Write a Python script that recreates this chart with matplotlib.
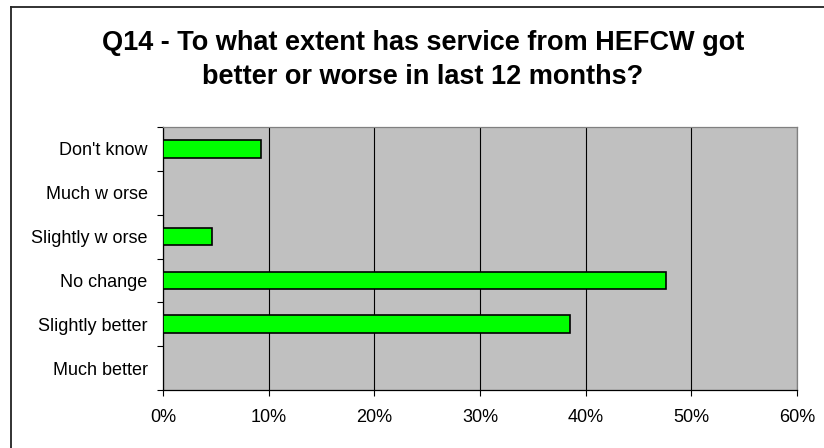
import matplotlib.pyplot as plt
from matplotlib.lines import Line2D
from matplotlib.ticker import FixedLocator, PercentFormatter

# survey answers, bottom to top as they appear on the axis
categories = ['Much better', 'Slightly better', 'No change',
              'Slightly w orse', 'Much w orse', "Don't know"]
percent = [0.0, 38.5, 47.6, 4.6, 0.0, 9.3]
x_ticks = [0, 10, 20, 30, 40, 50, 60]
title_lines = ['Q14 - To what extent has service from HEFCW got',
               'better or worse in last 12 months?']

plt.rcParams['font.family'] = ['Liberation Sans', 'DejaVu Sans']

W, H = 824, 448
fig = plt.figure(figsize=(W / 100, H / 100), dpi=100)
ax = fig.add_axes([163 / W, 1 - 390 / H, (797 - 163) / W, (390 - 127) / H])
ax.set_facecolor('#C0C0C0')

ypos = list(range(len(categories)))
widths = [1.2 if v > 0 else 0 for v in percent]
ax.barh(ypos, percent, height=0.4, color='#00FF00', edgecolor='black',
        linewidth=widths, zorder=3)

ax.set_xlim(0, 60)
ax.set_ylim(-0.5, len(categories) - 0.5)
ax.set_xticks(x_ticks)
ax.xaxis.set_major_formatter(PercentFormatter(decimals=0))
ax.grid(axis='x', color='black', linewidth=0.8, zorder=1)

# boundaries get tick marks, centres carry the labels
ax.yaxis.set_major_locator(FixedLocator([i - 0.5 for i in range(len(categories) + 1)]))
ax.yaxis.set_major_formatter(plt.NullFormatter())
ax.yaxis.set_minor_locator(FixedLocator(ypos))
ax.set_yticklabels(categories, minor=True)

ax.tick_params(axis='y', which='major', length=4, width=0.8, color='black')
ax.tick_params(axis='y', which='minor', length=0, pad=11, labelsize=13)
ax.tick_params(axis='x', length=4, width=0.8, pad=10, labelsize=13)

for side in ('left', 'bottom'):
    ax.spines[side].set_color('black')
    ax.spines[side].set_linewidth(0.9)
for side in ('top', 'right'):
    ax.spines[side].set_color('#808080')
    ax.spines[side].set_linewidth(0.9)

fig.text(423 / W, 1 - 50 / H, title_lines[0], ha='center', va='baseline',
         fontsize=19.5, fontweight='bold')
fig.text(423 / W, 1 - 84 / H, title_lines[1], ha='center', va='baseline',
         fontsize=19.5, fontweight='bold')

# chart frame
fig.add_artist(Line2D([11 / W, 1.0], [1 - 7 / H, 1 - 7 / H], color='#222222',
                      linewidth=1.3, transform=fig.transFigure))
fig.add_artist(Line2D([11 / W, 11 / W], [1 - 7 / H, 0.0], color='#222222',
                      linewidth=1.3, transform=fig.transFigure))

fig.savefig('out.png', dpi=100)
